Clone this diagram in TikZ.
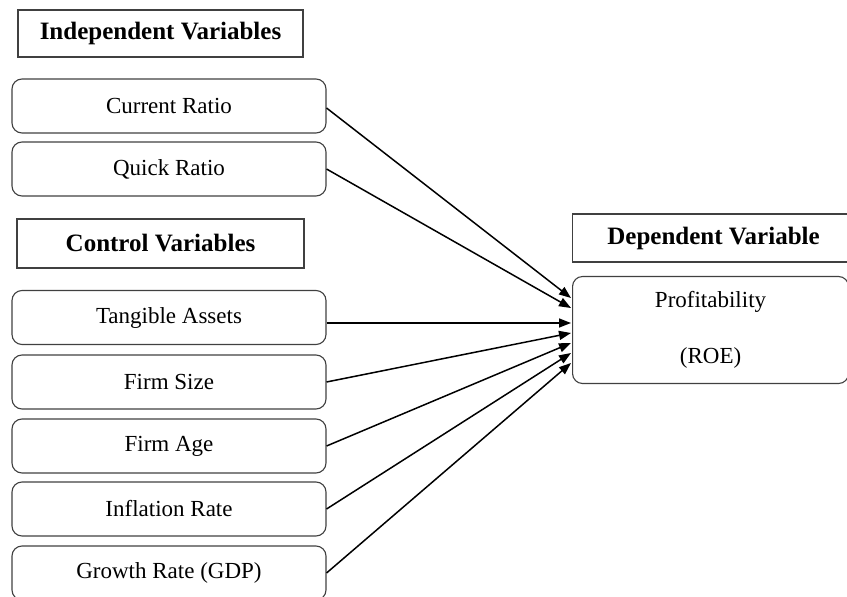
\documentclass[tikz,border=0pt]{standalone}
\usepackage{fontspec}
\setmainfont{Liberation Serif}
\usetikzlibrary{arrows.meta}
\begin{document}
\begin{tikzpicture}[x=1pt,y=-1pt,
  hdr/.style={draw=black!75,line width=1.1pt,inner sep=0pt,font=\fontsize{25}{29}\selectfont\bfseries},
  var/.style={draw=black!75,line width=1.1pt,rounded corners=10pt,inner sep=0pt,minimum width=314pt,minimum height=54pt,font=\fontsize{23}{27}\selectfont},
  arr/.style={line width=1.5pt,-{Triangle[length=12pt,width=9pt]}}]
\useasboundingbox (0,0) rectangle (847,597);
\clip (0,0) rectangle (847,597);
\node[hdr,minimum width=285pt,minimum height=47pt] (ih) at (160.5,33.5) {Independent Variables};
\node[var] (cr) at (169,106) {Current Ratio};
\node[var] (qr) at (169,169) {Quick Ratio};
\node[hdr,minimum width=287pt,minimum height=49pt] (ch) at (160.5,243.5) {Control Variables};
\node[var] (ta) at (169,317.5) {Tangible Assets};
\node[var] (fs) at (169,382) {Firm Size};
\node[var] (fa) at (169,446) {Firm Age};
\node[var] (ir) at (169,509) {Inflation Rate};
\node[var] (gr) at (169,573) {Growth Rate (GDP)};
\node[hdr,minimum width=282pt,minimum height=48pt,anchor=west] (dh) at (572,238) {\hspace*{-6pt}Dependent Variable\hspace*{-6pt}};
\node[var,minimum width=276pt,minimum height=107pt,anchor=west,align=center,font=\fontsize{23}{56}\selectfont] (pr) at (572,330) {Profitability\\(ROE)};
\coordinate (t1) at (571,298);
\coordinate (t2) at (571,308);
\coordinate (t3) at (571,323);
\coordinate (t4) at (571,333);
\coordinate (t5) at (571,343);
\coordinate (t6) at (571,353);
\coordinate (t7) at (571,363);
\draw[arr] ([yshift=-2pt]cr.east) -- (t1);
\draw[arr] (qr.east) -- (t2);
\draw[arr] (ta.east |- t3) -- (t3);
\draw[arr] (fs.east) -- (t4);
\draw[arr] (fa.east) -- (t5);
\draw[arr] (ir.east) -- (t6);
\draw[arr] (gr.east) -- (t7);
\end{tikzpicture}
\end{document}
